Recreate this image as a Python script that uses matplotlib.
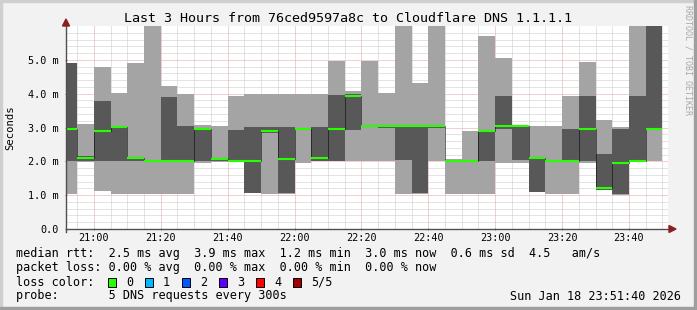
import matplotlib
matplotlib.use('Agg')
import matplotlib.pyplot as plt
import numpy as np
from matplotlib.patches import Rectangle, Polygon

# ---------------- data ----------------
# end of each 300 s step, minutes after 20:00 (20:55 ... 23:50)
step_end_min = list(range(55, 231, 5))
# five sorted DNS round-trip times per step (ms)
ping_min = [1.04, 1.97, 1.13, 1.04, 1.04, 1.04, 1.04, 1.04, 1.96, 1.97, 2.00, 1.06,
            1.02, 1.02, 1.96, 2.00, 2.00, 2.02, 2.02, 2.02, 1.04, 1.04, 2.02, 1.04,
            1.02, 1.04, 1.96, 1.96, 1.08, 1.02, 1.02, 1.96, 1.14, 1.01, 2.00, 2.02]
ping_2 = [2.02, 2.00, 2.02, 2.02, 2.00, 2.00, 2.00, 2.00, 2.02, 2.02, 2.00, 1.07,
          2.83, 1.07, 2.93, 2.02, 2.02, 2.93, 3.02, 3.00, 2.04, 1.07, 3.00, 2.00,
          2.00, 2.02, 2.97, 2.04, 1.09, 1.99, 2.00, 2.02, 1.15, 1.02, 2.00, 2.97]
median = [2.97, 2.10, 2.91, 3.02, 2.11, 2.02, 2.02, 2.02, 2.97, 2.08, 2.02, 2.02,
          2.91, 2.08, 2.97, 2.11, 2.97, 3.93, 3.05, 3.03, 3.03, 3.03, 3.03, 2.02,
          2.02, 2.90, 3.03, 3.03, 2.11, 2.02, 2.02, 2.97, 1.21, 1.96, 2.02, 2.97]
ping_4 = [4.92, 2.15, 3.79, 3.03, 2.13, 2.03, 3.90, 3.05, 3.00, 2.10, 2.93, 3.01,
          3.01, 3.01, 3.00, 3.01, 3.96, 3.99, 3.07, 3.05, 3.04, 3.04, 3.05, 2.04,
          2.04, 2.91, 3.93, 3.04, 2.12, 2.04, 2.97, 3.93, 2.22, 2.97, 3.93, 6.50]
ping_max = [4.92, 3.11, 4.80, 4.03, 4.92, 6.50, 4.23, 3.99, 3.07, 3.03, 3.93, 3.99,
            3.99, 3.99, 3.99, 3.99, 4.98, 4.09, 4.98, 4.03, 6.50, 4.33, 6.50, 2.06,
            2.91, 5.71, 5.05, 3.05, 3.03, 3.03, 3.93, 4.95, 3.22, 3.01, 6.50, 6.80]

x_tick_min = [60, 80, 100, 120, 140, 160, 180, 200, 220]
x_tick_labels = ['21:00', '21:20', '21:40', '22:00', '22:20', '22:40', '23:00', '23:20', '23:40']
y_ticks = [0, 1, 2, 3, 4, 5]
y_tick_labels = ['0.0', '1.0 m', '2.0 m', '3.0 m', '4.0 m', '5.0 m']

title = 'Last 3 Hours from 76ced9597a8c to Cloudflare DNS 1.1.1.1'
rtt_line = 'median rtt:  2.5 ms avg  3.9 ms max  1.2 ms min  3.0 ms now  0.6 ms sd  4.5   am/s'
loss_line = 'packet loss: 0.00 % avg  0.00 % max  0.00 % min  0.00 % now'
loss_labels = ['0', '1', '2', '3', '4', '5/5']
loss_colors = ['#26ff00', '#00b8ff', '#0059ff', '#5e00ff', '#ff0000', '#a10000']
probe_line = 'probe:       5 DNS requests every 300s'
date_text = 'Sun Jan 18 23:51:40 2026'

# ---------------- figure ----------------
W, H = 697, 310
fig = plt.figure(figsize=(W / 100, H / 100), dpi=100, facecolor='#f2f2f2')
MONO = 'DejaVu Sans Mono'

def fx(x):
    return x / W

def fy(y):
    return 1 - y / H

# border shading
fig.patches.append(Rectangle((0, fy(2)), 1, 2 / H, transform=fig.transFigure, color='#cfcfcf', zorder=0))
fig.patches.append(Rectangle((0, 0), 2 / W, 1, transform=fig.transFigure, color='#cfcfcf', zorder=0))
fig.patches.append(Rectangle((0, 0), 1, 3 / H, transform=fig.transFigure, color='#9e9e9e', zorder=0))
fig.patches.append(Rectangle((fx(W - 3), 0), 3 / W, 1, transform=fig.transFigure, color='#9e9e9e', zorder=0))

L, R, T, B = 66, 668, 26, 229
ax = fig.add_axes([fx(L), fy(B), (R - L) / W, (B - T) / H])
ax.set_facecolor('white')
x0, x1 = 51 + 40 / 60, 231 + 40 / 60
ax.set_xlim(x0, x1)
ax.set_ylim(0, 6)
for s in ax.spines.values():
    s.set_visible(False)

# grid
minor_c, major_c = '#c8c8c8', '#e8a3a3'
dot = (0, (1, 1))
for m in range(55, 232, 5):
    if m not in x_tick_min:
        ax.axvline(m, color=minor_c, lw=0.72, ls=dot, zorder=1)
for k in range(1, 30):
    v = k * 0.2
    if k % 5 != 0:
        ax.axhline(v, color=minor_c, lw=0.72, ls=dot, zorder=1)
for m in x_tick_min:
    ax.axvline(m, color=major_c, lw=0.72, ls=dot, zorder=1.1)
for v in y_ticks[1:]:
    ax.axhline(v, color=major_c, lw=0.72, ls=dot, zorder=1.1)

# smoke
ends = np.array(step_end_min, dtype=float)
edges = np.concatenate([[ends[0] - 5], ends])
ax.stairs(ping_max, edges, baseline=ping_min, fill=True, color='#a4a4a4', lw=0,
          antialiased=False, zorder=2)
ax.stairs(ping_4, edges, baseline=ping_2, fill=True, color='#585858', lw=0,
          antialiased=False, zorder=3)
# median step (black dotted) and green median
ax.stairs(median, edges, baseline=None, color='black', lw=0.72, ls=dot, zorder=4)
ax.hlines(median, edges[:-1], edges[1:], color=loss_colors[0], lw=1.5, zorder=5)

# ticks
ax.set_xticks(x_tick_min)
ax.set_xticklabels(x_tick_labels, family=MONO, fontsize=7.3)
ax.set_yticks(y_ticks)
ax.set_yticklabels(y_tick_labels, family=MONO, fontsize=7.3)
ax.tick_params(axis='x', length=2, width=0.7, color='#808080', pad=2, direction='inout')
ax.tick_params(axis='y', length=2, width=0.7, color='#808080', pad=4, direction='inout')

# axes lines + arrows
axis_c = '#505050'
fig.add_artist(plt.Line2D([fx(L), fx(672)], [fy(B), fy(B)], transform=fig.transFigure,
                          color=axis_c, lw=1.0, zorder=6))
fig.add_artist(plt.Line2D([fx(L), fx(L)], [fy(B + 3), fy(22)], transform=fig.transFigure,
                          color=axis_c, lw=1.0, zorder=6))
arrow_c = '#8b1f1f'
fig.add_artist(Polygon([[fx(669), fy(B - 3.5)], [fx(676), fy(B)], [fx(669), fy(B + 3.5)]],
                       closed=True, transform=fig.transFigure, color=arrow_c, zorder=7))
fig.add_artist(Polygon([[fx(L - 3.5), fy(26)], [fx(L), fy(19)], [fx(L + 3.5), fy(26)]],
                       closed=True, transform=fig.transFigure, color=arrow_c, zorder=7))

# texts
fig.text(fx(348.5), fy(18), title, family=MONO, fontsize=9.6, ha='center', va='center')
fig.text(fx(10), fy(128), 'Seconds', family=MONO, fontsize=7.6, rotation=90,
         ha='center', va='center')
fig.text(fx(688), fy(60), 'RRDTOOL / TOBI OETIKER', family=MONO, fontsize=6.0,
         rotation=270, ha='center', va='center', color='#a8a8a8')

LF = 8.5
fig.text(fx(16), fy(254), rtt_line, family=MONO, fontsize=LF, va='center', ha='left')
fig.text(fx(16), fy(268), loss_line, family=MONO, fontsize=LF, va='center', ha='left')
fig.text(fx(16), fy(282), 'loss color:', family=MONO, fontsize=LF, va='center', ha='left')
for k, (lab, col) in enumerate(zip(loss_labels, loss_colors)):
    bx = 108 + k * 37
    fig.patches.append(Rectangle((fx(bx), fy(286.5)), 8 / W, 9 / H, transform=fig.transFigure,
                                 facecolor=col, edgecolor='black', lw=0.7, zorder=5))
    fig.text(fx(bx + 18), fy(282), lab, family=MONO, fontsize=LF, va='center', ha='left')
fig.text(fx(16), fy(296), probe_line, family=MONO, fontsize=LF, va='center', ha='left')
fig.text(fx(681), fy(296), date_text, family=MONO, fontsize=LF, va='center', ha='right')

fig.savefig('out.png', dpi=100, facecolor=fig.get_facecolor())
